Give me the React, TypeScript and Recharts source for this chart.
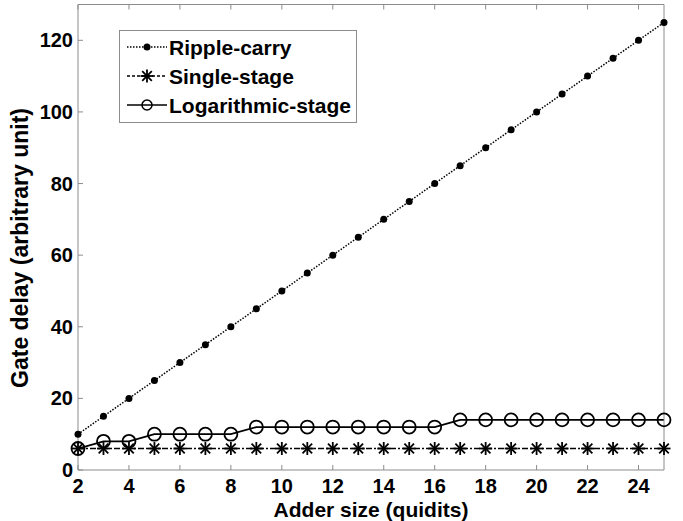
import React from "react";
import { LineChart, Line, XAxis, YAxis, Legend } from "recharts";

// adder size (quidits)
const sizes = [2, 3, 4, 5, 6, 7, 8, 9, 10, 11, 12, 13, 14, 15, 16, 17, 18, 19, 20, 21, 22, 23, 24, 25];
const rippleCarry = [10, 15, 20, 25, 30, 35, 40, 45, 50, 55, 60, 65, 70, 75, 80, 85, 90, 95, 100, 105, 110, 115, 120, 125];
const singleStage = [6, 6, 6, 6, 6, 6, 6, 6, 6, 6, 6, 6, 6, 6, 6, 6, 6, 6, 6, 6, 6, 6, 6, 6];
const logStage = [6, 8, 8, 10, 10, 10, 10, 12, 12, 12, 12, 12, 12, 12, 12, 14, 14, 14, 14, 14, 14, 14, 14, 14];

const xTicks = [2, 4, 6, 8, 10, 12, 14, 16, 18, 20, 22, 24];
const yTicks = [0, 20, 40, 60, 80, 100, 120];

const FONT = "'Liberation Sans', Arial, Helvetica, sans-serif";
const AXIS_COLOR = "#8c8c8c";
const INK = "#000000";

const data = sizes.map((n, i) => ({
	n,
	ripple: rippleCarry[i],
	single: singleStage[i],
	log: logStage[i],
}));

const tickStyle = { fill: INK, fontSize: 20, fontWeight: 700, fontFamily: FONT };

function StarDot(props: any) {
	const { cx, cy } = props;
	if (cx == null || cy == null) return null;
	const s = 6.5;
	const d = 4.8;
	return (
		<g stroke={INK} strokeWidth={1.8}>
			<line x1={cx - s} y1={cy} x2={cx + s} y2={cy} />
			<line x1={cx} y1={cy - s} x2={cx} y2={cy + s} />
			<line x1={cx - d} y1={cy - d} x2={cx + d} y2={cy + d} />
			<line x1={cx - d} y1={cy + d} x2={cx + d} y2={cy - d} />
		</g>
	);
}

function LegendBox() {
	const rows = [
		{ name: "Ripple-carry", dash: "1.5 1.5", marker: "dot" },
		{ name: "Single-stage", dash: "3 2", marker: "star" },
		{ name: "Logarithmic-stage", dash: undefined, marker: "circle" },
	];
	return (
		<svg width={238} height={93} style={{ display: "block" }}>
			<rect x={0.5} y={0.5} width={237} height={92} fill="#fff" stroke={AXIS_COLOR} />
			{rows.map((r, i) => {
				const y = 17 + i * 29;
				return (
					<g key={r.name}>
						<line x1={8} y1={y} x2={48} y2={y} stroke={INK} strokeWidth={1.5} strokeDasharray={r.dash} />
						{r.marker === "dot" && <circle cx={28} cy={y} r={3.5} fill={INK} />}
						{r.marker === "star" && <StarDot cx={28} cy={y} />}
						{r.marker === "circle" && <circle cx={28} cy={y} r={5} fill="none" stroke={INK} strokeWidth={1.5} />}
						<text x={50} y={y} dy="0.36em" fontSize={21} fontWeight={700} fontFamily={FONT} fill={INK}>
							{r.name}
						</text>
					</g>
				);
			})}
		</svg>
	);
}

export default function App() {
	return (
		<div style={{ position: "absolute", left: 0, top: 0, width: 683, height: 521, background: "#fff" }}>
			<LineChart width={683} height={521} data={data} margin={{ top: 3.5, right: 18, bottom: 0, left: 18 }}>
				<XAxis
					xAxisId="b"
					dataKey="n"
					type="number"
					domain={[2, 25]}
					ticks={xTicks}
					height={51}
					stroke={AXIS_COLOR}
					tickSize={-5}
					tickMargin={14}
					tick={tickStyle}
					label={{
						value: "Adder size (quidits)",
						content: () => (
							<text x={371} y={517} textAnchor="middle" fontSize={21} fontWeight={700} fontFamily={FONT} fill={INK}>
								Adder size (quidits)
							</text>
						),
					}}
				/>
				<XAxis
					xAxisId="t"
					orientation="top"
					dataKey="n"
					type="number"
					domain={[2, 25]}
					ticks={xTicks}
					height={1}
					stroke={AXIS_COLOR}
					tickSize={-5}
					tickFormatter={() => ""}
				/>
				<YAxis
					yAxisId="l"
					type="number"
					domain={[0, 130]}
					ticks={yTicks}
					width={60}
					stroke={AXIS_COLOR}
					tickSize={-5}
					tickMargin={10}
					tick={tickStyle}
					label={{
						value: "Gate delay (arbitrary unit)",
						content: () => (
							<text
								x={28}
								y={248}
								transform="rotate(-90, 28, 248)"
								textAnchor="middle"
								fontSize={23}
								fontWeight={700}
								fontFamily={FONT}
								fill={INK}>
								Gate delay (arbitrary unit)
							</text>
						),
					}}
				/>
				<YAxis
					yAxisId="r"
					orientation="right"
					type="number"
					domain={[0, 130]}
					ticks={yTicks}
					width={1}
					stroke={AXIS_COLOR}
					tickSize={-5}
					tickFormatter={() => ""}
				/>
				<Line
					xAxisId="b"
					yAxisId="l"
					dataKey="ripple"
					stroke={INK}
					strokeWidth={1.5}
					strokeDasharray="1.5 1.5"
					dot={{ r: 3.5, fill: INK, stroke: INK, strokeWidth: 0 }}
					isAnimationActive={false}
				/>
				<Line
					xAxisId="b"
					yAxisId="l"
					dataKey="single"
					stroke={INK}
					strokeWidth={1.5}
					strokeDasharray="6 2 2 2"
					dot={<StarDot />}
					isAnimationActive={false}
				/>
				<Line
					xAxisId="b"
					yAxisId="l"
					dataKey="log"
					stroke={INK}
					strokeWidth={1.8}
					dot={{ r: 6.5, fill: "none", stroke: INK, strokeWidth: 1.8 }}
					isAnimationActive={false}
				/>
				<Legend
					layout="vertical"
					align="center"
					verticalAlign="middle"
					content={() => <LegendBox />}
					wrapperStyle={{ position: "absolute", left: 119, top: 30, width: 238, height: 93 }}
				/>
			</LineChart>
		</div>
	);
}
